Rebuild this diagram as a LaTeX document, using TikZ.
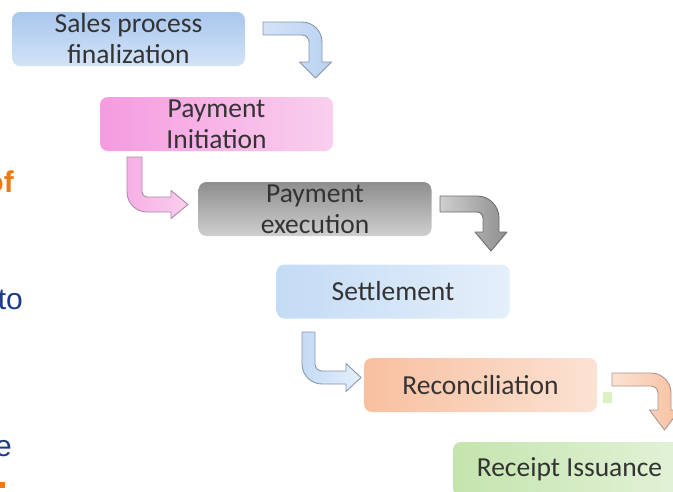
\documentclass[tikz,border=0pt]{standalone}
\usepackage{fontspec}
\setmainfont{Carlito}
\newfontfamily\arialfont{Liberation Sans}
\definecolor{boxtext}{HTML}{333333}
\definecolor{navytext}{HTML}{1B3A8C}
\definecolor{orangetext}{HTML}{F07A10}
% box fills
\definecolor{blueA}{HTML}{A9C7EE}\definecolor{blueB}{HTML}{D3E3F7}
\definecolor{pinkA}{HTML}{F59BDF}\definecolor{pinkB}{HTML}{F9CFEE}
\definecolor{grayA}{HTML}{8E8E8E}\definecolor{grayB}{HTML}{CFCFCF}
\definecolor{skyA}{HTML}{C4DBF5}\definecolor{skyB}{HTML}{E4EFFA}
\definecolor{peachA}{HTML}{F8C0A0}\definecolor{peachB}{HTML}{FCE2D3}
\definecolor{greenA}{HTML}{C4E4AD}\definecolor{greenB}{HTML}{E3F2D8}
\definecolor{greenDot}{HTML}{D9F1C3}
% arrow outlines
\definecolor{blueLine}{HTML}{8797AD}
\definecolor{pinkLine}{HTML}{B088A6}
\definecolor{grayLine}{HTML}{6E6E6E}
\definecolor{peachLine}{HTML}{A8988E}
\begin{document}
\begin{tikzpicture}[x=1pt,y=1pt,
  stepbox/.style={rounded corners=8pt, minimum width=233pt, minimum height=54pt,
    inner sep=0pt, text=boxtext, align=center,
    font=\fontsize{27.5}{31}\selectfont},
  bendarrow/.style={line width=0.9pt, line join=round},
  sidetext/.style={anchor=base east, inner sep=0pt,
    font=\arialfont\fontsize{30}{34}\selectfont}]
\useasboundingbox (0,0) rectangle (673,-491);
\clip (0,0) rectangle (673,-491);

% fragments of the text column on the left
\node[sidetext, text=orangetext, font=\arialfont\bfseries\fontsize{30}{34}\selectfont] (of) at (14,-192) {of};
\node[sidetext, text=navytext] (to) at (23,-309) {to};
\node[sidetext, text=navytext] (e) at (12,-456) {e};
\fill[orangetext] (0,-482) rectangle (5,-488);

% process steps
\node[stepbox, top color=blueA, bottom color=blueB] (sales) at (128.5,-39) {Sales process\\finalization};
\node[stepbox, left color=pinkA, right color=pinkB] (init) at (216.5,-124) {Payment\\Initiation};
\node[stepbox, top color=grayA, bottom color=grayB] (exec) at (315,-209) {Payment\\execution};
\node[stepbox, left color=skyA, right color=skyB] (settle) at (393,-291.5) {Settlement};
\node[stepbox, left color=peachA, right color=peachB] (recon) at (480.5,-385) {Reconciliation};
\node[stepbox, left color=greenA, right color=greenB] (receipt) at (569.5,-469) {Receipt Issuance};

% small marker beside the reconciliation step
\fill[greenDot] (603,-392) rectangle (612,-403);

% bent block arrows between the steps
\draw[bendarrow, draw=blueLine, left color=blueB, right color=blueA!80]
  (263,-22) -- (302,-22) arc[start angle=90,end angle=0,radius=20] -- (322,-62)
  -- (331.5,-62) -- (315.5,-78) -- (299.5,-62) -- (309,-62) -- (309,-42)
  arc[start angle=0,end angle=90,radius=7] -- (263,-35) -- cycle;

\draw[bendarrow, draw=pinkLine, left color=pinkA!80, right color=pinkB]
  (127,-157) -- (127,-192) arc[start angle=180,end angle=270,radius=20] -- (171,-212)
  -- (171,-218.5) -- (188,-204.5) -- (171,-190.5) -- (171,-197) -- (147,-197)
  arc[start angle=270,end angle=180,radius=5] -- (142,-157) -- cycle;

\draw[bendarrow, draw=grayLine, left color=grayB, right color=grayA]
  (440,-196) -- (477,-196) arc[start angle=90,end angle=0,radius=22] -- (499,-232)
  -- (507,-232) -- (491,-251) -- (475,-232) -- (483,-232) -- (483,-218)
  arc[start angle=0,end angle=90,radius=6] -- (440,-212) -- cycle;

\draw[bendarrow, draw=blueLine, left color=skyA, right color=skyB]
  (302,-332) -- (302,-364) arc[start angle=180,end angle=270,radius=20] -- (346,-384)
  -- (346,-391.5) -- (361,-377.5) -- (346,-363.5) -- (346,-371) -- (322,-371)
  arc[start angle=270,end angle=180,radius=7] -- (315,-332) -- cycle;

\draw[bendarrow, draw=peachLine, left color=peachB, right color=peachA]
  (612,-373) -- (651,-373) arc[start angle=90,end angle=0,radius=20] -- (671,-410)
  -- (679.5,-410) -- (664.5,-430) -- (649.5,-410) -- (658,-410) -- (658,-393)
  arc[start angle=0,end angle=90,radius=7] -- (612,-386) -- cycle;
\end{tikzpicture}
\end{document}
